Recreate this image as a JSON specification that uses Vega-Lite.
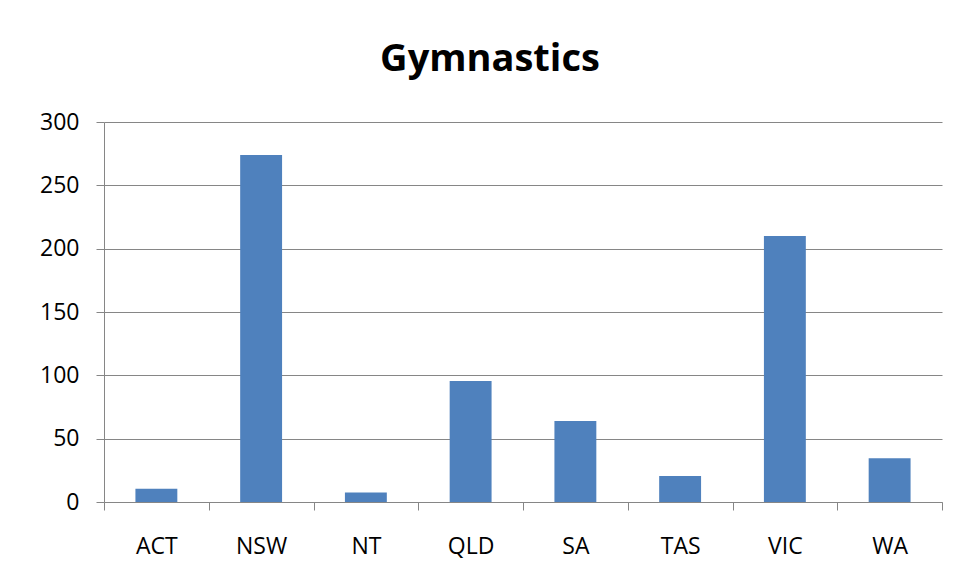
{
  "$schema": "https://vega.github.io/schema/vega-lite/v6.json",
  "width": 838,
  "height": 380,
  "autosize": {"type": "none"},
  "padding": {"left": 104, "top": 122, "right": 16, "bottom": 76},
  "background": "white",
  "title": {
    "text": "Gymnastics",
    "font": "Open Sans",
    "fontSize": 38,
    "fontWeight": "bold",
    "color": "#000000",
    "anchor": "middle",
    "baseline": "alphabetic",
    "dx": -33,
    "offset": 2
  },
  "data": {
    "values": [
      {"state": "ACT", "value": 10.5},
      {"state": "NSW", "value": 274},
      {"state": "NT", "value": 7.5},
      {"state": "QLD", "value": 95.5},
      {"state": "SA", "value": 64},
      {"state": "TAS", "value": 20.5},
      {"state": "VIC", "value": 210},
      {"state": "WA", "value": 34.5}
    ]
  },
  "mark": {"type": "bar", "color": "#4F81BD", "width": {"band": 0.4}},
  "encoding": {
    "x": {
      "field": "state",
      "type": "nominal",
      "sort": null,
      "scale": {"paddingInner": 0, "paddingOuter": 0},
      "axis": {
        "title": null,
        "labelAngle": 0,
        "tickBand": "extent",
        "tickSize": 8,
        "tickColor": "#868686",
        "domainColor": "#868686",
        "labelFont": "Open Sans",
        "labelFontSize": 23,
        "labelColor": "#000000",
        "labelPadding": 25,
        "grid": false
      }
    },
    "y": {
      "field": "value",
      "type": "quantitative",
      "scale": {"domain": [0, 300], "nice": false},
      "axis": {
        "title": null,
        "values": [0, 50, 100, 150, 200, 250, 300],
        "tickSize": 8,
        "tickColor": "#868686",
        "domainColor": "#868686",
        "gridColor": "#868686",
        "grid": true,
        "labelFont": "Open Sans",
        "labelFontSize": 23,
        "labelColor": "#000000",
        "labelPadding": 17
      }
    }
  },
  "config": {"view": {"stroke": null}}
}
